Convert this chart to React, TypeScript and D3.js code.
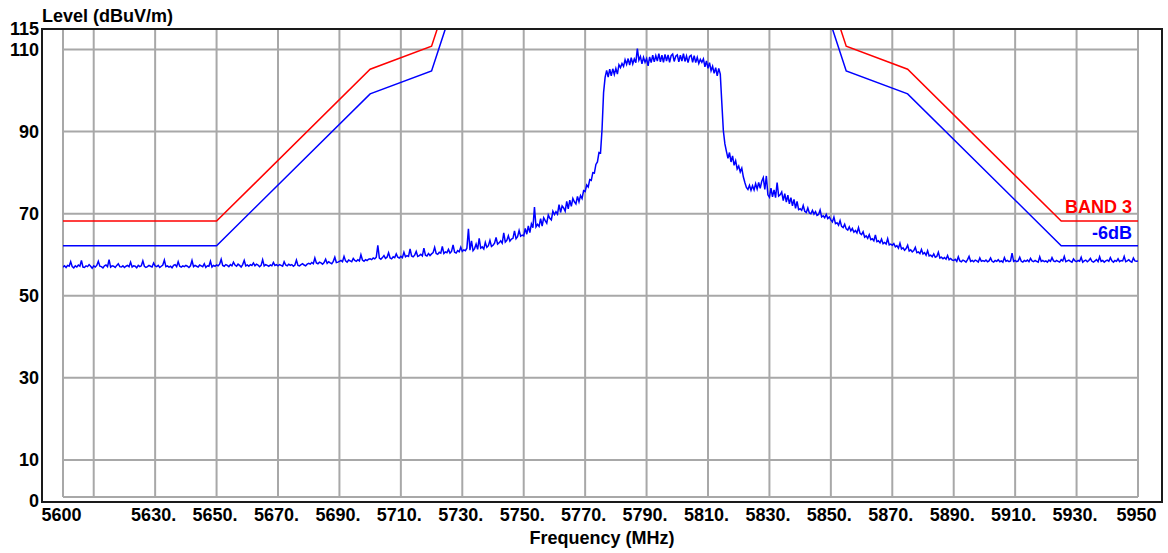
import React from "react";
import * as d3 from "d3";

// ---- data ----
const xTickValues = [5600, 5630, 5650, 5670, 5690, 5710, 5730, 5750, 5770, 5790, 5810, 5830, 5850, 5870, 5890, 5910, 5930, 5950];
const xTickLabels = ["5600", "5630.", "5650.", "5670.", "5690.", "5710.", "5730.", "5750.", "5770.", "5790.", "5810.", "5830.", "5850.", "5870.", "5890.", "5910.", "5930.", "5950"];
const xGridValues = [5600, 5610, 5630, 5650, 5670, 5690, 5710, 5730, 5750, 5770, 5790, 5810, 5830, 5850, 5870, 5890, 5910, 5930, 5950];
const yTickValues = [0, 10, 30, 50, 70, 90, 110, 115];
const yGridValues = [10, 30, 50, 70, 90, 110];

const limitFreqs = [5600, 5650, 5700, 5720, 5725, 5850, 5855, 5875, 5925, 5950];
const band3Limit = [68.2, 68.2, 105.2, 110.8, 122.2, 122.2, 110.8, 105.2, 68.2, 68.2];
const minus6dBLimit = [62.2, 62.2, 99.2, 104.8, 116.2, 116.2, 104.8, 99.2, 62.2, 62.2];

const traceStart = 5600;
const traceStep = 0.5;
const traceLevels = [
  57.0,57.3,56.9,57.4,57.2,58.3,57.1,56.8,57.3,57.0,57.5,57.2,58.6,57.0,56.9,57.3,57.1,57.6,57.2,56.7,
  57.3,57.0,57.4,58.4,57.2,57.1,56.8,57.3,57.5,57.1,58.8,57.0,57.3,57.2,56.9,57.4,57.8,57.1,57.0,57.3,
  56.9,57.2,57.4,57.1,58.2,57.0,57.3,57.2,56.8,57.4,57.1,57.3,58.5,57.2,56.9,57.1,57.4,57.2,57.0,58.0,
  57.3,57.1,57.4,56.9,57.2,57.5,58.7,57.1,57.3,57.0,57.2,56.8,57.4,57.6,57.1,58.3,57.2,57.0,57.3,57.1,
  57.4,57.2,56.9,57.3,58.6,57.1,57.4,57.2,57.0,57.5,57.3,57.1,57.8,56.9,57.3,57.2,58.4,57.0,57.4,57.2,
  57.5,57.3,57.7,58.9,57.4,57.2,57.6,57.4,57.1,57.6,57.3,58.2,57.5,57.2,57.7,57.4,57.0,57.6,58.6,57.3,
  57.5,57.2,57.6,57.4,58.0,57.3,57.7,57.5,57.1,57.4,58.8,57.3,57.6,57.4,57.2,57.5,57.3,58.1,57.4,57.6,
  57.3,57.6,57.4,57.2,58.3,57.5,57.3,57.7,57.4,57.6,57.2,57.5,58.7,57.4,57.3,57.6,57.8,57.5,57.3,57.7,
  57.9,57.7,58.1,57.8,59.2,58.0,57.8,58.2,58.0,57.7,58.1,58.9,57.9,58.3,58.0,57.8,58.4,59.4,58.1,58.2,
  58.4,58.6,58.3,59.6,58.5,58.2,58.7,58.5,58.3,59.1,58.6,58.4,58.8,58.5,60.0,58.7,58.4,58.8,58.6,58.9,
  59.0,58.8,59.2,59.0,59.4,62.3,59.2,58.9,59.3,59.8,59.1,59.4,60.5,59.2,59.0,59.5,59.3,60.2,59.4,59.2,
  59.6,59.3,60.6,59.5,59.8,59.6,61.4,59.7,59.5,59.9,60.8,59.6,59.8,60.1,59.7,61.6,59.9,59.7,60.3,59.8,
  60.2,60.5,61.8,60.3,60.1,60.6,60.4,62.0,60.3,60.7,60.5,61.3,60.4,60.8,62.4,60.6,60.4,61.0,60.7,61.8,
  60.8,61.2,61.0,61.6,66.3,61.1,63.4,61.0,61.5,62.6,61.3,64.0,61.6,61.9,61.4,63.0,61.8,62.2,63.5,62.0,
  62.3,62.8,64.2,62.6,62.9,63.4,62.8,65.3,63.1,63.5,64.6,63.3,63.8,64.0,65.8,63.9,64.4,65.9,64.5,64.8,
  64.6,66.4,65.0,67.0,65.4,67.5,66.6,71.6,66.8,67.4,66.9,68.8,67.0,69.0,68.3,67.7,69.7,68.9,68.5,70.6,
  69.8,70.5,69.9,72.2,70.3,71.9,71.4,70.6,73.0,71.2,73.3,71.8,73.7,72.9,72.4,74.2,72.9,74.4,73.7,75.6,
  75.4,77.0,76.5,78.3,78.1,80.0,79.9,82.0,82.6,84.9,84.8,90.5,99.5,103.2,104.9,103.3,105.2,103.6,105.3,103.9,
  105.4,104.0,106.3,105.6,106.6,105.9,107.5,106.4,107.8,106.2,108.0,106.5,107.7,106.8,110.2,107.4,108.3,106.5,108.1,106.9,
  107.8,106.0,108.2,106.8,108.6,107.0,108.5,107.2,109.0,107.0,108.6,106.9,108.8,107.2,108.7,106.9,108.5,108.9,107.1,108.4,
  108.7,107.0,108.6,107.2,109.0,107.1,108.4,106.8,108.3,108.6,106.9,108.5,106.8,108.1,106.6,107.6,106.9,107.7,105.8,107.2,
  105.4,106.8,104.8,105.9,104.2,105.6,103.6,105.4,104.0,97.0,90.2,87.0,85.2,83.5,84.9,82.6,84.1,81.8,82.9,80.9,
  81.6,80.2,81.1,79.0,77.6,76.4,75.9,76.9,75.7,76.8,75.8,77.3,76.0,77.6,76.2,77.9,78.8,75.9,79.2,74.6,
  74.0,76.2,74.1,75.8,73.9,77.6,74.3,74.6,75.3,73.2,74.9,72.8,74.5,72.4,73.9,71.9,73.5,71.3,73.0,71.0,
  71.2,70.8,72.0,70.6,70.3,71.4,70.2,70.0,70.8,69.9,70.5,69.6,69.8,70.9,69.2,69.5,69.0,69.8,68.8,69.2,
  68.5,68.0,69.2,67.6,67.8,67.2,68.3,66.9,66.6,67.4,66.3,66.0,66.8,65.8,66.4,65.5,65.9,65.3,66.6,65.2,
  64.9,65.6,64.3,64.6,64.0,64.9,63.7,63.9,63.4,64.8,63.2,63.4,62.9,63.8,62.7,63.0,62.6,63.9,62.4,62.6,
  62.3,62.7,61.9,62.2,61.6,62.8,61.4,61.7,61.1,61.5,62.3,60.9,61.2,60.7,61.0,61.8,60.5,60.7,60.3,61.3,
  60.2,60.5,59.9,61.0,59.7,59.9,59.5,60.2,59.4,59.6,60.6,59.2,59.4,59.0,59.3,58.9,59.8,58.8,59.1,58.7,
  58.6,58.9,58.4,59.5,58.5,58.3,58.7,58.5,58.2,58.8,59.6,58.4,58.6,58.3,58.7,58.5,58.2,59.2,58.4,58.6,
  58.4,58.7,58.3,58.5,59.2,58.4,58.2,58.6,58.4,58.8,58.3,58.5,58.2,59.3,58.4,58.6,58.3,58.5,60.4,58.4,
  58.6,58.3,58.5,59.4,58.4,58.2,58.6,58.4,58.7,58.3,59.1,58.5,58.3,58.6,58.4,58.2,59.5,58.4,58.6,58.3,
  58.5,58.2,58.7,58.4,59.3,58.5,58.3,58.6,58.4,58.2,58.8,58.5,59.6,58.3,58.5,58.7,58.4,58.2,59.0,58.5,
  58.3,58.6,58.4,59.4,58.2,58.5,58.7,58.3,58.6,59.1,58.4,58.2,58.5,58.8,58.3,59.5,58.4,58.6,58.2,58.5,
  58.7,58.4,59.3,58.5,58.2,58.6,58.4,59.0,58.3,58.6,58.5,59.6,58.3,58.5,58.8,58.4,58.2,59.2,58.5,58.4,
  58.5
];

const FONT = "'Liberation Sans', Arial, sans-serif";

export default function App() {
  const W = 1168, H = 553;
  const x = d3.scaleLinear().domain([5600, 5950]).range([63, 1138]);
  const y = d3.scaleLinear().domain([0, 115]).range([501, 29]);
  const frame = { l: 42, t: 29, r: 1162, b: 502 };
  const gridBottom = 497;
  const grid = "#a8a8a8";

  const limLine = d3.line<number>()
    .x((_, i) => x(limitFreqs[i]))
    .y((d) => y(d));
  const traceLine = d3.line<number>()
    .x((_, i) => x(traceStart + i * traceStep))
    .y((d) => y(d));

  return (
    <svg width={W} height={H} style={{ position: "absolute", left: 0, top: 0, background: "#fff" }}>
      <defs>
        <clipPath id="plotClip">
          <rect x={x(5600)} y={y(115)} width={x(5950) - x(5600)} height={y(0) - y(115)} />
        </clipPath>
      </defs>
      <rect width={W} height={H} fill="#fff" />
      {xGridValues.map((v) => (
        <line key={"vx" + v} x1={x(v)} x2={x(v)} y1={frame.t} y2={gridBottom} stroke={grid} strokeWidth={2} />
      ))}
      {yGridValues.map((v) => (
        <line key={"hy" + v} x1={x(5600)} x2={x(5950)} y1={y(v)} y2={y(v)} stroke={grid} strokeWidth={2} />
      ))}
      <line x1={x(5600)} x2={x(5950)} y1={gridBottom} y2={gridBottom} stroke={grid} strokeWidth={2} />

      <g clipPath="url(#plotClip)">
        <path d={limLine(band3Limit) || ""} fill="none" stroke="#ff0000" strokeWidth={1.5} />
        <path d={limLine(minus6dBLimit) || ""} fill="none" stroke="#0000ff" strokeWidth={1.5} />
        <path d={traceLine(traceLevels) || ""} fill="none" stroke="#0000ff" strokeWidth={1.5} strokeLinejoin="miter" />
      </g>

      <rect x={frame.l} y={frame.t} width={frame.r - frame.l} height={frame.b - frame.t} fill="none" stroke="#1a1a1a" strokeWidth={2} />

      <text x={1132} y={213} textAnchor="end" fill="#ff0000" fontFamily={FONT} fontWeight="bold" fontSize={18}>BAND 3</text>
      <text x={1132} y={239} textAnchor="end" fill="#0000ff" fontFamily={FONT} fontWeight="bold" fontSize={18}>-6dB</text>

      {yTickValues.map((v) => (
        <text key={"yt" + v} x={39} y={y(v) + 6} textAnchor="end" fill="#000" fontFamily={FONT} fontWeight="bold" fontSize={18}>{v}</text>
      ))}
      {xTickValues.map((v, i) => (
        <text key={"xt" + v} x={x(v) - 1.5} y={521} textAnchor="middle" fill="#000" fontFamily={FONT} fontWeight="bold" fontSize={18}>{xTickLabels[i]}</text>
      ))}
      <text x={frame.l} y={22} fill="#000" fontFamily={FONT} fontWeight="bold" fontSize={18}>Level (dBuV/m)</text>
      <text x={602} y={544} textAnchor="middle" fill="#000" fontFamily={FONT} fontWeight="bold" fontSize={18}>Frequency (MHz)</text>
    </svg>
  );
}
